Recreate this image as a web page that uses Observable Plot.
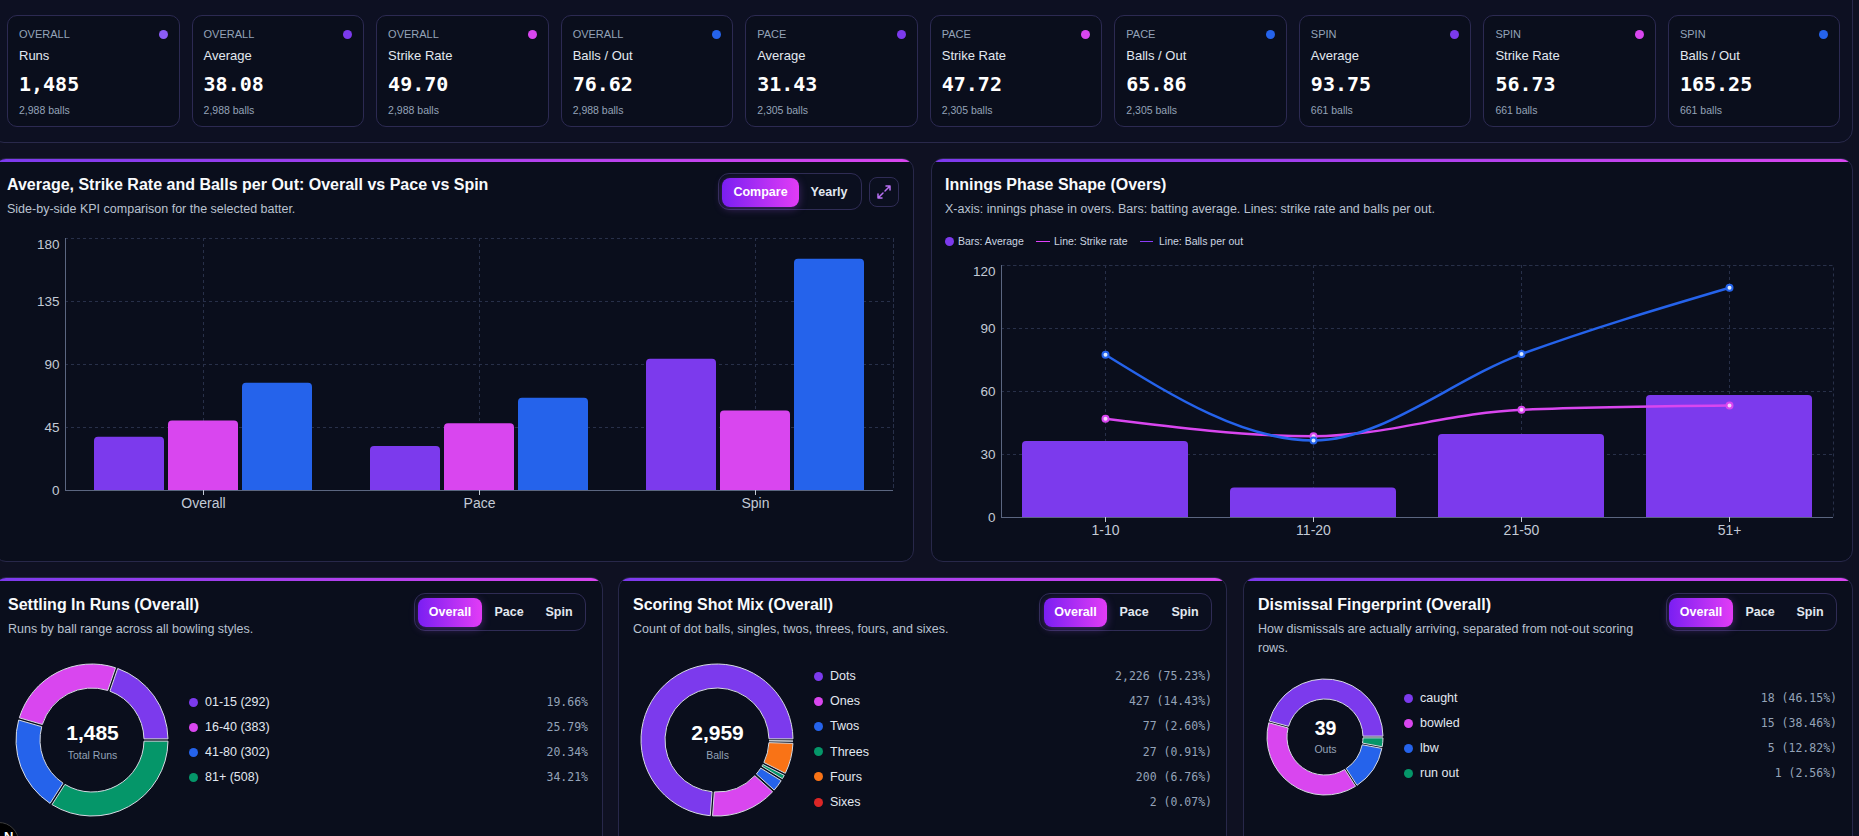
<!DOCTYPE html>
<html lang="en">
<head>
<meta charset="utf-8">
<title>Batter KPI dashboard</title>
<script src="https://cdn.jsdelivr.net/npm/d3@7"></script>
<script src="https://cdn.jsdelivr.net/npm/@observablehq/plot@0.6"></script>
<style>
  html, body { margin: 0; padding: 0; }
  body {
    width: 1859px; height: 836px; overflow: hidden; position: relative;
    background: #0f1122; color: #e2e8f0;
    font-family: "Liberation Sans", Arial, Helvetica, sans-serif;
  }
  .abs { position: absolute; }
  .strip {
    position: absolute; left: -10px; top: -30px; width: 1863px; height: 173px;
    box-sizing: border-box; border: 1px solid #29294b; border-radius: 14px; background: #0d1022;
  }
  .card {
    position: absolute; top: 15px; width: 172.5px; height: 112px; box-sizing: border-box;
    border: 1px solid #2c2a52; border-radius: 10px; background: #0a0e1c;
  }
  .card .kick { position: absolute; left: 11px; top: 11px; font-size: 11px; line-height: 14px; color: #94a3b8; text-transform: uppercase; }
  .card .dot { position: absolute; right: 11px; top: 13.5px; width: 9px; height: 9px; border-radius: 50%; }
  .card .lab { position: absolute; left: 11px; top: 31px; font-size: 13px; line-height: 18px; color: #e2e8f0; }
  .card .val { position: absolute; left: 11px; top: 56px; font-family: "DejaVu Sans Mono", "Liberation Mono", monospace; font-weight: 700; font-size: 20px; line-height: 24px; color: #ffffff; }
  .card .balls { position: absolute; left: 11px; top: 87px; font-size: 10.5px; line-height: 14px; color: #94a3b8; }
  .panel {
    position: absolute; box-sizing: border-box; border: 1px solid #28284a; border-radius: 12px;
    background: #0a0e1c; overflow: hidden;
  }
  .panel::before {
    content: ""; position: absolute; left: 0; right: 0; top: 0; height: 3px;
    background: linear-gradient(90deg, #7c3aed, #d946ef);
  }
  .title { position: absolute; font-weight: 700; font-size: 16px; line-height: 20px; color: #f8fafc; white-space: nowrap; }
  .sub { position: absolute; font-size: 12.5px; line-height: 19px; color: #b9c2d0; }
  .toggle {
    position: absolute; box-sizing: border-box; border: 1px solid #2f2c55; border-radius: 11px; background: #0b0f1f;
  }
  .toggle span {
    position: absolute; top: 4px; height: 29px; line-height: 29px; text-align: center;
    font-weight: 700; font-size: 12.5px; color: #e2e8f0; white-space: nowrap;
  }
  .toggle span.on {
    background: linear-gradient(90deg, #7a1ff2, #e23cf6); color: #ffffff; border-radius: 8px;
    box-shadow: 0 2px 8px rgba(168, 85, 247, 0.35);
  }
  .iconbtn {
    position: absolute; box-sizing: border-box; border: 1px solid #2f2c55; border-radius: 8px; background: #0b0f1f;
  }
  .legend-item { position: absolute; font-size: 10.5px; line-height: 14px; color: #cbd5e1; white-space: nowrap; }
  .swatch { position: absolute; border-radius: 50%; }
  .lg-label { position: absolute; font-size: 12.5px; line-height: 16px; color: #e2e8f0; white-space: nowrap; }
  .lg-value { position: absolute; font-family: "DejaVu Sans Mono", "Liberation Mono", monospace; font-size: 11.5px; line-height: 16px; color: #94a3b8; text-align: right; white-space: nowrap; }
  .badge {
    position: absolute; left: -21px; top: 822px; width: 40px; height: 40px; border-radius: 50%;
    background: #000; border: 1px solid #3b3b3b; box-sizing: border-box;
  }
  .badge b { position: absolute; left: 24px; top: 6px; color: #fff; font-size: 13px; }
</style>
</head>
<body>
<div class="strip"></div>
<div id="cards"></div>

<!-- Row 2 -->
<div class="panel" style="left:-6px; top:158px; width:920px; height:404px;"></div>
<div class="panel" style="left:931px; top:158px; width:922px; height:404px;"></div>
<!-- Row 3 -->
<div class="panel" style="left:-6px; top:577px; width:609px; height:300px;"></div>
<div class="panel" style="left:618px; top:577px; width:609px; height:300px;"></div>
<div class="panel" style="left:1243px; top:577px; width:610px; height:300px;"></div>

<div class="title" style="left:7px; top:175px;">Average, Strike Rate and Balls per Out: Overall vs Pace vs Spin</div>
<div class="sub" style="left:7px; top:199.5px;">Side-by-side KPI comparison for the selected batter.</div>
<div class="toggle" style="left:718px; top:173px; width:144px; height:37px;">
  <span class="on" style="left:3px; width:77px;">Compare</span>
  <span style="left:84px; width:52px;">Yearly</span>
</div>
<div class="iconbtn" style="left:869px; top:177px; width:30px; height:30px;">
  <svg width="28" height="28" viewBox="0 0 28 28" style="position:absolute;left:0;top:0">
    <path d="M16 8h4v4M20 8l-5 5M12 20H8v-4M8 20l5-5" fill="none" stroke="#b970f3" stroke-width="1.5" stroke-linecap="round" stroke-linejoin="round"/>
  </svg>
</div>
<div id="compare" class="abs" style="left:0px; top:228px;"></div>

<div class="title" style="left:945px; top:175px;">Innings Phase Shape (Overs)</div>
<div class="sub" style="left:945px; top:199.5px;">X-axis: innings phase in overs. Bars: batting average. Lines: strike rate and balls per out.</div>
<div class="swatch" style="left:945px; top:236.5px; width:9px; height:9px; background:#7c3aed;"></div>
<div class="legend-item" style="left:958px; top:234px;">Bars: Average</div>
<div class="abs" style="left:1036px; top:240.5px; width:14px; height:1.5px; background:#e040fb;"></div>
<div class="legend-item" style="left:1054px; top:234px;">Line: Strike rate</div>
<div class="abs" style="left:1140px; top:240.5px; width:13px; height:1.5px; background:#8b3cf7;"></div>
<div class="legend-item" style="left:1159px; top:234px;">Line: Balls per out</div>
<div id="phase" class="abs" style="left:931px; top:255px;"></div>

<div class="title" style="left:8px; top:595px;">Settling In Runs (Overall)</div>
<div class="sub" style="left:8px; top:619.5px;">Runs by ball range across all bowling styles.</div>
<div class="toggle" style="left:414px; top:593px; width:172px; height:38px;">
  <span class="on" style="left:3px; width:64px;">Overall</span>
  <span style="left:70px; width:48px;">Pace</span>
  <span style="left:120px; width:48px;">Spin</span>
</div>

<div class="title" style="left:633px; top:595px;">Scoring Shot Mix (Overall)</div>
<div class="sub" style="left:633px; top:619.5px;">Count of dot balls, singles, twos, threes, fours, and sixes.</div>
<div class="toggle" style="left:1039px; top:593px; width:173px; height:38px;">
  <span class="on" style="left:4px; width:63px;">Overall</span>
  <span style="left:70px; width:48px;">Pace</span>
  <span style="left:121px; width:48px;">Spin</span>
</div>

<div class="title" style="left:1258px; top:595px;">Dismissal Fingerprint (Overall)</div>
<div class="sub" style="left:1258px; top:619.5px; width:392px;">How dismissals are actually arriving, separated from not-out scoring rows.</div>
<div class="toggle" style="left:1666px; top:593px; width:171px; height:38px;">
  <span class="on" style="left:2px; width:64px;">Overall</span>
  <span style="left:69px; width:48px;">Pace</span>
  <span style="left:119px; width:48px;">Spin</span>
</div>

<div id="legends"></div>
<div class="badge"><b>N</b></div>

<script>
// ---- Batting splits ----
const splits = ["Overall", "Pace", "Spin"];
const splitBalls = [2988, 2305, 661];
const overallRuns = 1485;
const metrics = ["Average", "Strike Rate", "Balls / Out"];
const averageValues = [38.08, 31.43, 93.75];
const strikeRateValues = [49.70, 47.72, 56.73];
const ballsPerOutValues = [76.62, 65.86, 165.25];
const compareTicks = [0, 45, 90, 135, 180];

// ---- Innings phase (overs) ----
const phases = ["1-10", "11-20", "21-50", "51+"];
const phaseAverage = [36.2, 14.1, 39.5, 58.1];
const phaseStrikeRate = [47.0, 38.7, 51.3, 53.3];
const phaseBallsPerOut = [77.5, 36.7, 77.8, 109.4];
const phaseTicks = [0, 30, 60, 90, 120];

// ---- Settling in: runs by ball range ----
const settleRanges = ["01-15", "16-40", "41-80", "81+"];
const settleRuns = [292, 383, 302, 508];

// ---- Scoring shot mix ----
const shotTypes = ["Dots", "Ones", "Twos", "Threes", "Fours", "Sixes"];
const shotCounts = [2226, 427, 77, 27, 200, 2];

// ---- Dismissals ----
const dismissalKinds = ["caught", "bowled", "lbw", "run out"];
const dismissalCounts = [18, 15, 5, 1];

// ---- Palette ----
const metricColors = ["#7c3aed", "#d946ef", "#2563eb"];
const runsColor = "#8b5cf6";
const sliceColors = ["#7c3aed", "#d946ef", "#2563eb", "#059669", "#f97316", "#dc2626"];

const FONT = '"Liberation Sans", Arial, Helvetica, sans-serif';
const plotStyle = {background: "transparent", color: "#c3cad6", fontFamily: FONT, fontSize: "14px", overflow: "visible"};
const grid = {stroke: "#283049", strokeDasharray: "3,3", strokeOpacity: 1};
const axisStroke = "#5b6680";
const fmtInt = d3.format(",");
const fmtPct = d3.format(".2%");

// ---- KPI cards ----
const metricSeries = [averageValues, strikeRateValues, ballsPerOutValues];
const kpiCards = [{scope: splits[0], label: "Runs", value: fmtInt(overallRuns), balls: splitBalls[0], color: runsColor}];
splits.forEach((split, i) => {
  metrics.forEach((metric, k) => {
    kpiCards.push({scope: split, label: metric, value: metricSeries[k][i].toFixed(2), balls: splitBalls[i], color: metricColors[k]});
  });
});
const cardsRoot = document.getElementById("cards");
kpiCards.forEach((c, i) => {
  const el = document.createElement("div");
  el.className = "card";
  el.style.left = (7 + i * 184.55) + "px";
  el.innerHTML = `<div class="kick">${c.scope}</div><div class="dot" style="background:${c.color}"></div>` +
    `<div class="lab">${c.label}</div><div class="val">${c.value}</div><div class="balls">${fmtInt(c.balls)} balls</div>`;
  cardsRoot.appendChild(el);
});

// ---- Grouped bars: Overall vs Pace vs Spin (one facet per split, facets tile the frame) ----
const compareRows = splits.flatMap((split, i) => metrics.map((metric, k) => ({split, metric, value: metricSeries[k][i]})));
const compareMax = compareTicks[compareTicks.length - 1];
try {
  document.getElementById("compare").appendChild(Plot.plot({
    width: 914, height: 297, marginLeft: 64, marginRight: 20, marginTop: 10, marginBottom: 35,
    style: plotStyle,
    fx: {domain: splits, padding: 0, label: null},
    x: {domain: metrics, paddingInner: 0.06, paddingOuter: 0.387, axis: null},
    y: {domain: [0, compareMax], axis: null},
    color: {domain: metrics, range: metricColors},
    marks: [
      Plot.ruleY(compareTicks, grid),
      Plot.ruleX([metrics[1]], grid),
      Plot.frame({fx: splits[splits.length - 1], anchor: "right", ...grid}),
      Plot.barY(compareRows, {fx: "split", x: "metric", y: "value", fill: "metric", ry1: 4}),
      Plot.frame({fx: splits[0], anchor: "left", stroke: axisStroke}),
      Plot.ruleY([0], {stroke: axisStroke}),
      Plot.text(compareTicks.filter((t) => t < compareMax), {fx: () => splits[0], y: (d) => d, text: (d) => d, frameAnchor: "left", textAnchor: "end", dx: -6, fontSize: 13.5}),
      Plot.text([compareMax], {fx: () => splits[0], y: (d) => d, text: (d) => d, frameAnchor: "left", textAnchor: "end", dx: -6, dy: 6, fontSize: 13.5}),
      Plot.axisFx({anchor: "bottom", tickSize: 5, tickPadding: 3, fontSize: 14, label: null})
    ]
  }));
} catch (e) { console.error(e); }

// ---- Innings phase: bars for average, lines for strike rate and balls per out ----
const phaseRows = phases.map((phase, i) => ({phase, average: phaseAverage[i], strikeRate: phaseStrikeRate[i], ballsPerOut: phaseBallsPerOut[i]}));
const phaseMax = phaseTicks[phaseTicks.length - 1];
try {
  document.getElementById("phase").appendChild(Plot.plot({
    width: 922, height: 297, marginLeft: 70, marginRight: 20, marginTop: 10, marginBottom: 35,
    style: plotStyle,
    x: {domain: phases, paddingInner: 0.2, paddingOuter: 0.1, axis: null},
    y: {domain: [0, phaseMax], axis: null},
    marks: [
      Plot.ruleY(phaseTicks, grid),
      Plot.frame(grid),
      Plot.gridX(grid),
      Plot.barY(phaseRows, {x: "phase", y: "average", fill: "#7c3aed", ry1: 4}),
      Plot.frame({anchor: "left", stroke: axisStroke}),
      Plot.ruleY([0], {stroke: axisStroke}),
      Plot.line(phaseRows, {x: "phase", y: "strikeRate", stroke: "#d946ef", strokeWidth: 2.5, curve: "monotone-x"}),
      Plot.line(phaseRows, {x: "phase", y: "ballsPerOut", stroke: "#2563eb", strokeWidth: 2.5, curve: "monotone-x"}),
      Plot.dot(phaseRows, {x: "phase", y: "strikeRate", r: 3, fill: "#f5d0fe", stroke: "#d946ef", strokeWidth: 2}),
      Plot.dot(phaseRows, {x: "phase", y: "ballsPerOut", r: 3, fill: "#dbeafe", stroke: "#2563eb", strokeWidth: 2}),
      Plot.text(phaseTicks.filter((t) => t < phaseMax), {y: (d) => d, text: (d) => d, frameAnchor: "left", textAnchor: "end", dx: -6, fontSize: 13.5}),
      Plot.text([phaseMax], {y: (d) => d, text: (d) => d, frameAnchor: "left", textAnchor: "end", dx: -6, dy: 6, fontSize: 13.5}),
      Plot.axisX({anchor: "bottom", tickSize: 5, tickPadding: 3, fontSize: 14, label: null})
    ]
  }));
} catch (e) { console.error(e); }

// ---- Donut helper: slices run counter-clockwise from three o'clock ----
function donut(labels, counts, {radius, hole, centerLabel, valueSize, valueDy, labelDy}) {
  const rows = labels.map((label, i) => ({label, count: counts[i]}));
  const slices = d3.pie().value((d) => d.count).sort(null)
    .startAngle(Math.PI / 2).endAngle(Math.PI / 2 - 2 * Math.PI).padAngle(0.025)(rows);
  const total = d3.sum(counts);
  const size = 2 * radius + 4;
  return Plot.plot({
    width: size, height: size, margin: 0,
    style: {...plotStyle, fontSize: "11px"},
    x: {domain: [-1, 1], axis: null},
    y: {domain: [-1, 1], axis: null},
    color: {domain: labels, range: sliceColors.slice(0, labels.length)},
    marks: [
      Plot.dot(slices, {
        x: () => 0, y: () => 0, fill: (d) => d.data.label,
        render(index, scales, values) {
          const unit = scales.x(1) - scales.x(0);
          const arc = d3.arc().outerRadius(unit * radius / (size / 2)).innerRadius(unit * hole / (size / 2));
          const g = d3.create("svg:g").attr("transform", `translate(${scales.x(0)},${scales.y(0)})`);
          g.selectAll("path").data(index).join("path")
            .attr("d", (i) => arc(slices[i]))
            .attr("fill", (i) => values.fill[i])
            .attr("stroke", "#d6dae3")
            .attr("stroke-width", 1);
          return g.node();
        }
      }),
      Plot.text([total], {x: () => 0, y: () => 0, text: (d) => fmtInt(d), dy: valueDy, fontSize: valueSize, fontWeight: 700, fill: "#ffffff"}),
      Plot.text([centerLabel], {x: () => 0, y: () => 0, text: (d) => d, dy: labelDy, fontSize: 10.5, fill: "#94a3b8"})
    ]
  });
}

function placeDonut(build, cx, cy, radius) {
  const wrap = document.createElement("div");
  wrap.className = "abs";
  wrap.style.left = (cx - radius - 2) + "px";
  wrap.style.top = (cy - radius - 2) + "px";
  document.body.appendChild(wrap);
  try { wrap.appendChild(build()); } catch (e) { console.error(e); }
}

placeDonut(() => donut(settleRanges, settleRuns, {radius: 76, hole: 52, centerLabel: "Total Runs", valueSize: 21, valueDy: -7.5, labelDy: 15}), 92, 740, 76);
placeDonut(() => donut(shotTypes, shotCounts, {radius: 76, hole: 52, centerLabel: "Balls", valueSize: 21, valueDy: -7.5, labelDy: 15}), 717, 740, 76);
placeDonut(() => donut(dismissalKinds, dismissalCounts, {radius: 58, hole: 38, centerLabel: "Outs", valueSize: 19.5, valueDy: -8.5, labelDy: 12.5}), 1325, 736.5, 58);

// ---- Donut legends ----
function legendRows({dotX, labelX, valueRight, firstY, step}, labels, values) {
  const root = document.getElementById("legends");
  labels.forEach((label, i) => {
    const y = firstY + i * step;
    root.insertAdjacentHTML("beforeend",
      `<div class="swatch" style="left:${dotX - 4.5}px; top:${y - 4.5}px; width:9px; height:9px; background:${sliceColors[i]}"></div>` +
      `<div class="lg-label" style="left:${labelX}px; top:${y - 8}px;">${label}</div>` +
      `<div class="lg-value" style="left:${valueRight - 200}px; width:200px; top:${y - 8}px;">${values[i]}</div>`);
  });
}
const settleTotal = d3.sum(settleRuns);
legendRows({dotX: 193, labelX: 205, valueRight: 588, firstY: 702, step: 25},
  settleRanges.map((r, i) => `${r} (${settleRuns[i]})`),
  settleRuns.map((v) => fmtPct(v / settleTotal)));
const shotTotal = d3.sum(shotCounts);
legendRows({dotX: 818, labelX: 830, valueRight: 1212, firstY: 676, step: 25.2},
  shotTypes,
  shotCounts.map((v) => `${fmtInt(v)} (${fmtPct(v / shotTotal)})`));
const outTotal = d3.sum(dismissalCounts);
legendRows({dotX: 1408.5, labelX: 1420, valueRight: 1837, firstY: 698, step: 25},
  dismissalKinds,
  dismissalCounts.map((v) => `${fmtInt(v)} (${fmtPct(v / outTotal)})`));
</script>
</body>
</html>
